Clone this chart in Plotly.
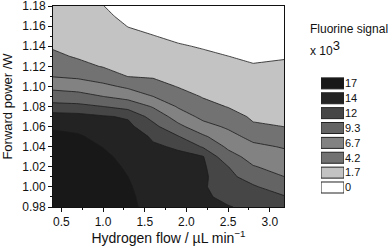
import plotly.graph_objects as go

# ---- data ----
hydrogen_flow = [0.4, 0.7, 1.0, 1.3, 1.6, 1.9, 2.2, 2.5, 2.8, 3.2]
forward_power = [1.18, 1.17, 1.16, 1.15, 1.14, 1.13, 1.12, 1.11, 1.10, 1.09, 1.08,
                 1.07, 1.06, 1.05, 1.04, 1.03, 1.02, 1.01, 1.00, 0.99, 0.98]
# fluorine signal (x 10^3), one row per forward power (top to bottom), one column per flow
fluorine_signal = [
    [2.6, 2.2, 1.75, 0.65, 0.1, 0.0, 0.0, 0.0, 0.0, 0.0],
    [2.95, 2.56, 2.14, 1.15, 0.64, 0.2, 0.05, 0.0, 0.0, 0.12],
    [3.3, 2.91, 2.53, 1.65, 1.2, 0.75, 0.55, 0.26, 0.18, 0.49],
    [3.64, 3.27, 2.92, 2.15, 1.76, 1.31, 1.05, 0.74, 0.59, 0.85],
    [3.99, 3.63, 3.31, 2.65, 2.31, 1.87, 1.55, 1.22, 1.0, 1.22],
    [4.6, 3.99, 3.69, 3.15, 2.87, 2.42, 2.05, 1.71, 1.41, 1.59],
    [5.6, 4.79, 4.08, 3.65, 3.42, 2.98, 2.55, 2.18, 1.82, 1.96],
    [6.6, 6.26, 5.45, 4.15, 3.98, 3.53, 3.05, 2.66, 2.23, 2.33],
    [8.5, 8.1, 7.3, 6.25, 5.14, 4.09, 3.55, 3.14, 2.64, 2.7],
    [10.65, 10.28, 9.31, 8.3, 6.71, 5.2, 4.05, 3.62, 3.05, 3.07],
    [12.8, 12.67, 12.01, 11.23, 9.06, 6.45, 4.96, 4.1, 3.46, 3.44],
    [14.75, 14.6, 14.18, 13.78, 11.17, 8.09, 6.05, 5.15, 3.87, 3.8],
    [16.6, 16.1, 15.09, 14.46, 12.67, 9.98, 7.57, 6.34, 4.49, 4.17],
    [17.8, 17.4, 16.0, 14.97, 13.78, 12.17, 9.72, 7.57, 5.96, 5.27],
    [18.5, 18.2, 16.91, 15.47, 14.2, 13.83, 11.79, 8.8, 7.24, 6.46],
    [19.0, 18.8, 17.7, 15.98, 14.35, 14.3, 14.1, 10.38, 8.32, 7.42],
    [19.5, 19.3, 18.4, 16.49, 14.45, 14.6, 14.3, 12.05, 9.46, 8.31],
    [20.0, 19.7, 19.0, 17.01, 14.55, 14.9, 14.4, 12.55, 11.05, 9.21],
    [20.3, 20.0, 19.5, 17.5, 14.7, 15.1, 14.2, 13.05, 12.27, 10.65],
    [20.6, 20.3, 19.9, 17.9, 15.0, 15.3, 14.3, 13.55, 12.93, 12.08],
    [21.0, 20.6, 20.2, 18.3, 15.1, 15.5, 14.5, 14.1, 13.6, 12.9],
]
levels = [1.7, 4.2, 6.7, 9.3, 12, 14, 17]
legend_labels = ["0", "1.7", "4.2", "6.7", "9.3", "12", "14", "17"]
band_colors = ["#ffffff", "#c3c3c3", "#727272", "#828282", "#646464",
               "#464646", "#232323", "#181818"]

FONT = "Liberation Sans, Arial, sans-serif"

y_asc = forward_power[::-1]
z_asc = fluorine_signal[::-1]

fig = go.Figure()
for lev, col in zip(levels, band_colors[1:]):
    fig.add_trace(go.Contour(
        x=hydrogen_flow, y=y_asc, z=z_asc,
        contours=dict(type="constraint", operation="<", value=lev),
        fillcolor=col,
        line=dict(color="#1b1b1b", width=0.8, smoothing=0),
        showscale=False, hoverinfo="skip",
    ))

fig.add_trace(go.Bar(
    x=[1] * len(legend_labels), y=legend_labels, orientation="h",
    marker=dict(color=band_colors, line=dict(color="#222222", width=1)),
    width=0.74, xaxis="x2", yaxis="y2", showlegend=False, hoverinfo="skip",
))

fig.update_layout(
    width=390, height=246,
    margin=dict(l=53, r=10, t=6, b=39, autoexpand=False),
    paper_bgcolor="white", plot_bgcolor="white",
    font=dict(family=FONT, size=12, color="#111111"),
    showlegend=False,
    xaxis=dict(
        domain=[0, 0.7064], range=[0.4, 3.17], automargin=False,
        tick0=0.5, dtick=0.5, tickformat=".1f", ticklabeloverflow="allow",
        ticks="outside", ticklen=4, tickcolor="#111",
        minor=dict(ticks="outside", ticklen=2, dtick=0.25, tickcolor="#111"),
        showline=True, linecolor="#111", linewidth=1, mirror=True,
        showgrid=False, zeroline=False,
        tickfont=dict(size=12),
        title=dict(text="Hydrogen flow / µL min<sup>−1</sup>", font=dict(size=14), standoff=3),
    ),
    yaxis=dict(
        range=[0.98, 1.18], dtick=0.02, tickformat=".2f", automargin=False,
        ticklabeloverflow="allow",
        ticks="outside", ticklen=4, tickcolor="#111",
        minor=dict(ticks="outside", ticklen=2, dtick=0.01, tickcolor="#111"),
        showline=True, linecolor="#111", linewidth=1, mirror=True,
        showgrid=False, zeroline=False,
        tickfont=dict(size=12),
        title=dict(text="Forward power /W", font=dict(size=13), standoff=6),
    ),
    xaxis2=dict(domain=[0.8196, 0.8899], range=[0, 1], visible=False, anchor="y2",
                automargin=False),
    yaxis2=dict(
        domain=[0.06, 0.652], anchor="x2", side="right", type="category",
        categoryorder="array", categoryarray=legend_labels, automargin=False,
        showgrid=False, zeroline=False, showline=False, ticks="",
        tickfont=dict(size=11),
    ),
    annotations=[
        dict(text="Fluorine signal", xref="paper", yref="paper", x=0.78, y=0.886,
             xanchor="left", yanchor="middle", showarrow=False, font=dict(size=12)),
        dict(text="x 10<sup><span style='font-size:13px'>3</span></sup>",
             xref="paper", yref="paper", x=0.78, y=0.79,
             xanchor="left", yanchor="middle", showarrow=False, font=dict(size=12)),
    ],
)

fig.write_html(
    "out.html",
    config={"displayModeBar": False, "staticPlot": True},
    post_script="document.body.style.margin='0';document.body.style.overflow='hidden';",
)
